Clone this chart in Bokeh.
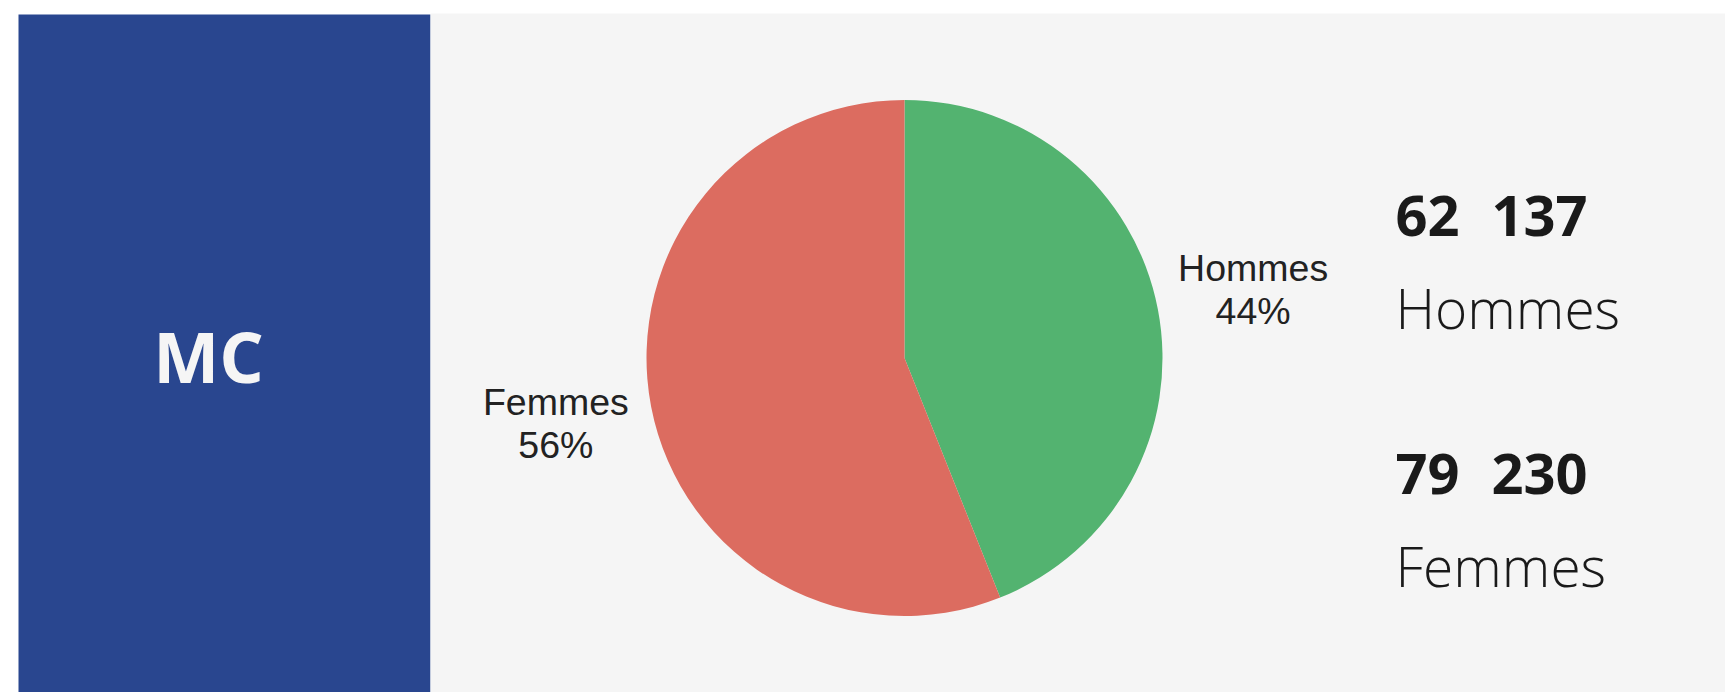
import math
from bokeh.plotting import figure
from bokeh.models import Range1d, ColumnDataSource
from bokeh.core.properties import value
from bokeh.embed import file_html
from bokeh.resources import INLINE

# ---- data ----
region = "MC"
groups = ["Hommes", "Femmes"]
counts = [62137, 79230]
colors = ["#53b370", "#dc6c60"]

W, H = 1725, 692
p = figure(width=W, height=H, x_range=Range1d(0, W), y_range=Range1d(0, H),
           x_axis_type=None, y_axis_type=None, toolbar_location=None,
           output_backend="svg", min_border=0)
p.outline_line_color = None
p.grid.visible = False
p.background_fill_color = "white"
p.border_fill_color = "white"

def Y(page_y):
    return H - page_y

def X(page_x):
    return page_x

# panels
p.quad(left=[X(18)], right=[X(430)], bottom=[Y(H + 10)], top=[Y(14)],
       fill_color="#29468f", line_color=None)
p.quad(left=[X(430)], right=[X(W + 10)], bottom=[Y(H + 10)], top=[Y(13)],
       fill_color="#f5f5f5", line_color=None)

p.text(x=[X(208)], y=[Y(383 - 28)], text=[region], text_align="center",
       text_baseline="alphabetic", text_font=value("Open Sans"),
       text_font_style="bold", text_font_size="70px", text_color="#f5f5f5")

# pie
total = sum(counts)
fracs = [c / total for c in counts]
cx, cy, r = X(904), Y(357.5), 258
starts, ends, mids = [], [], []
a = math.pi / 2
for f in fracs:
    e = a
    s = a - f * 2 * math.pi
    starts.append(s)
    ends.append(e)
    mids.append((s + e) / 2)
    a = s
src = ColumnDataSource(dict(start=starts, end=ends, color=colors))
p.wedge(x=cx, y=cy, radius=r, start_angle="start", end_angle="end",
        fill_color="color", line_color=None, source=src)

lab_r = 355
lx = [cx + lab_r * math.cos(m) for m in mids]
ly = [cy + lab_r * math.sin(m) + 1.5 for m in mids]
labels = [f"{g}\n{round(f * 100)}%" for g, f in zip(groups, fracs)]
p.text(x=lx, y=ly, text=labels, text_align="center", text_baseline="middle",
       text_font=value("Liberation Sans"), text_font_size="37.5px",
       text_color="#222222", text_line_height=1.03)

# right-hand figures
num_txt = [f"{c:,}".replace(",", "\u2007") for c in counts]
base_num = [236, 494]
base_lab = [329.5, 588]
p.text(x=[X(1395)] * 2, y=[Y(b - 23) for b in base_num], text=num_txt,
       text_align="left", text_baseline="alphabetic",
       text_font=value("Open Sans"), text_font_style="bold",
       text_font_size="56px", text_color="#1a1a1a")
p.text(x=[X(1395)] * 2, y=[Y(b - 23) for b in base_lab], text=groups,
       text_align="left", text_baseline="alphabetic",
       text_font=value("Open Sans Light"), text_font_size="55px",
       text_color="#1a1a1a")

open("out.html", "w").write(file_html(p, INLINE))
